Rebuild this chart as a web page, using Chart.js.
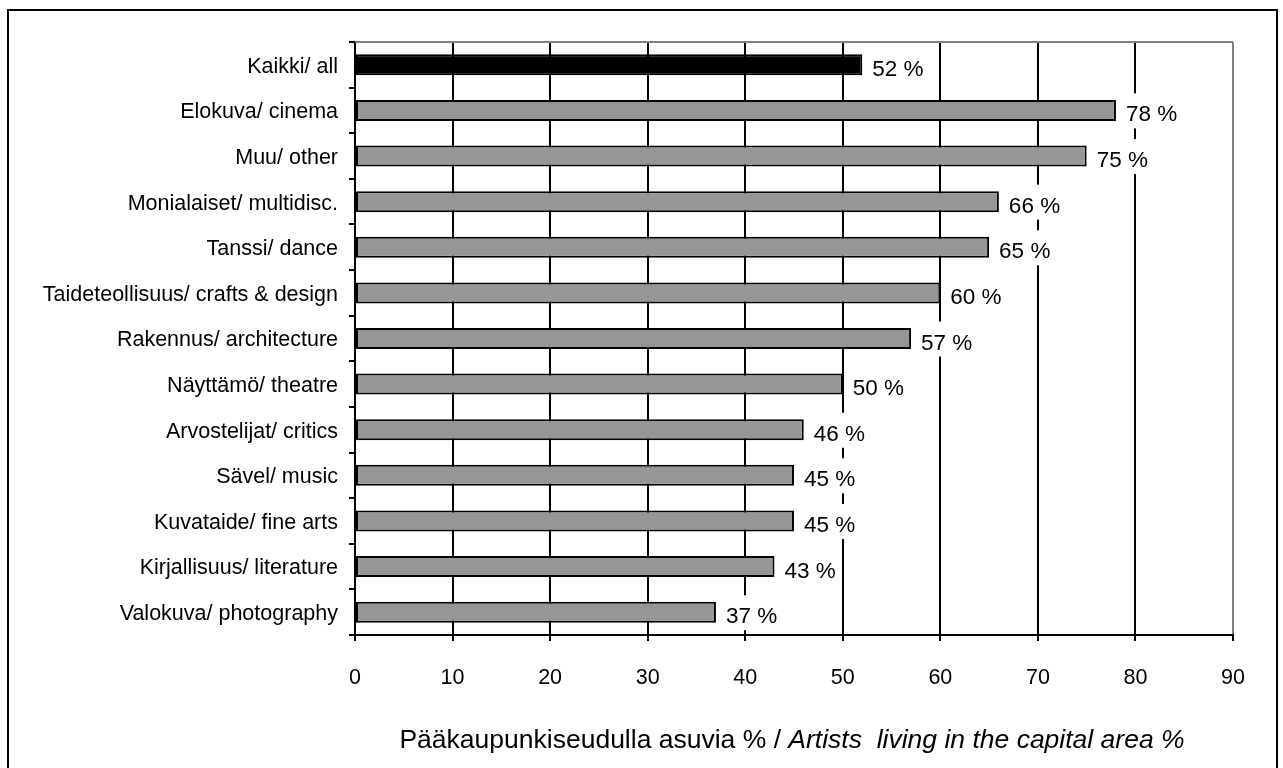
<!DOCTYPE html>
<html>
<head>
<meta charset="utf-8">
<script src="https://cdn.jsdelivr.net/npm/chart.js@4.4.1/dist/chart.umd.min.js"></script>
<style>
    html, body { margin: 0; padding: 0; background: #fff; }
    #wrap { width: 1283px; height: 768px; }
</style>
</head>
<body>
<div id="wrap"><canvas id="bar-chart" width="1283" height="768"></canvas></div>
<script>
const categories = [
    "Kaikki/ all",
    "Elokuva/ cinema",
    "Muu/ other",
    "Monialaiset/ multidisc.",
    "Tanssi/ dance",
    "Taideteollisuus/ crafts & design",
    "Rakennus/ architecture",
    "Näyttämö/ theatre",
    "Arvostelijat/ critics",
    "Sävel/ music",
    "Kuvataide/ fine arts",
    "Kirjallisuus/ literature",
    "Valokuva/ photography",
];
const shares = [52, 78, 75, 66, 65, 60, 57, 50, 46, 45, 45, 43, 37];
const xTicks = [0, 10, 20, 30, 40, 50, 60, 70, 80, 90];
const titleNormal = "Pääkaupunkiseudulla asuvia % / ";
const titleItalic = "Artists  living in the capital area %";

const FONT = "'Liberation Sans', Arial, sans-serif";

// outer frame + plot top border
const framePlugin = {
    id: "frame",
    beforeDraw(chart) {
        const ctx = chart.ctx;
        ctx.save();
        ctx.fillStyle = "#fff";
        ctx.fillRect(0, 0, chart.width, chart.height);
        ctx.restore();
    },
    afterDraw(chart) {
        const ctx = chart.ctx;
        const a = chart.chartArea;
        ctx.save();
        ctx.strokeStyle = "#000";
        ctx.lineWidth = 2;
        ctx.strokeRect(8, 10, 1269, 800);
        ctx.strokeStyle = "#808080";
        ctx.beginPath();
        ctx.moveTo(a.left, a.top);
        ctx.lineTo(a.right, a.top);
        ctx.stroke();
        ctx.restore();
    },
};

// value labels with white box behind them
const valueLabels = {
    id: "valueLabels",
    afterDatasetsDraw(chart) {
        const ctx = chart.ctx;
        const meta = chart.getDatasetMeta(0);
        ctx.save();
        ctx.font = "22.5px " + FONT;
        meta.data.forEach((bar, i) => {
            const text = shares[i] + " %";
            const w = ctx.measureText(text).width;
            ctx.fillStyle = "#fff";
            ctx.fillRect(bar.x + 3, bar.y - 17, w + 12, 35);
            ctx.fillStyle = "#000";
            ctx.textBaseline = "alphabetic";
            ctx.fillText(text, bar.x + 10, bar.y + 11);
        });
        ctx.restore();
    },
};

// x axis title, normal + italic parts
const axisTitle = {
    id: "axisTitle",
    afterDraw(chart) {
        const ctx = chart.ctx;
        const a = chart.chartArea;
        ctx.save();
        ctx.fillStyle = "#000";
        ctx.textBaseline = "alphabetic";
        ctx.font = "26.5px " + FONT;
        const w1 = ctx.measureText(titleNormal).width;
        ctx.font = "italic 26.5px " + FONT;
        const w2 = ctx.measureText(titleItalic).width;
        const x0 = (a.left + a.right) / 2 - 2 - (w1 + w2) / 2;
        ctx.font = "26.5px " + FONT;
        ctx.fillText(titleNormal, x0, 748);
        ctx.font = "italic 26.5px " + FONT;
        ctx.fillText(titleItalic, x0 + w1, 748);
        ctx.restore();
    },
};

const ctx = document.getElementById("bar-chart").getContext("2d");

new Chart(ctx, {
    type: "bar",
    data: {
        labels: categories,
        datasets: [
            {
                data: shares,
                backgroundColor: (c) => (c.dataIndex === 0 ? "#000" : "#969696"),
                borderColor: "#000",
                borderWidth: 2,
                borderSkipped: false,
                categoryPercentage: 1,
                barPercentage: 0.46,
            },
        ],
    },
    options: {
        indexAxis: "y",
        responsive: false,
        animation: false,
        devicePixelRatio: 1,
        layout: { padding: { top: 42, right: 50, left: 0, bottom: 0 } },
        plugins: {
            legend: { display: false },
            tooltip: { enabled: false },
        },
        scales: {
            x: {
                min: 0,
                max: 90,
                afterBuildTicks(scale) {
                    scale.ticks = xTicks.map((v) => ({ value: v }));
                },
                afterFit(scale) {
                    scale.height = 133;
                },
                ticks: {
                    color: "#000",
                    font: { family: FONT, size: 21.5 },
                    padding: 24,
                    maxRotation: 0,
                },
                grid: {
                    color: (c) => (c.tick && c.tick.value === 90 ? "#808080" : "#000"),
                    tickColor: "#000",
                    lineWidth: 2,
                    tickLength: 6,
                },
                border: { color: "#000", width: 2 },
            },
            y: {
                afterFit(scale) {
                    scale.width = 355;
                },
                ticks: {
                    color: "#000",
                    font: { family: FONT, size: 21.5 },
                    padding: 11,
                    labelOffset: 2,
                    autoSkip: false,
                },
                grid: {
                    drawOnChartArea: false,
                    offset: true,
                    tickColor: "#000",
                    lineWidth: 2,
                    tickLength: 6,
                },
                border: { color: "#000", width: 2 },
            },
        },
    },
    plugins: [framePlugin, valueLabels, axisTitle],
});
</script>
</body>
</html>
